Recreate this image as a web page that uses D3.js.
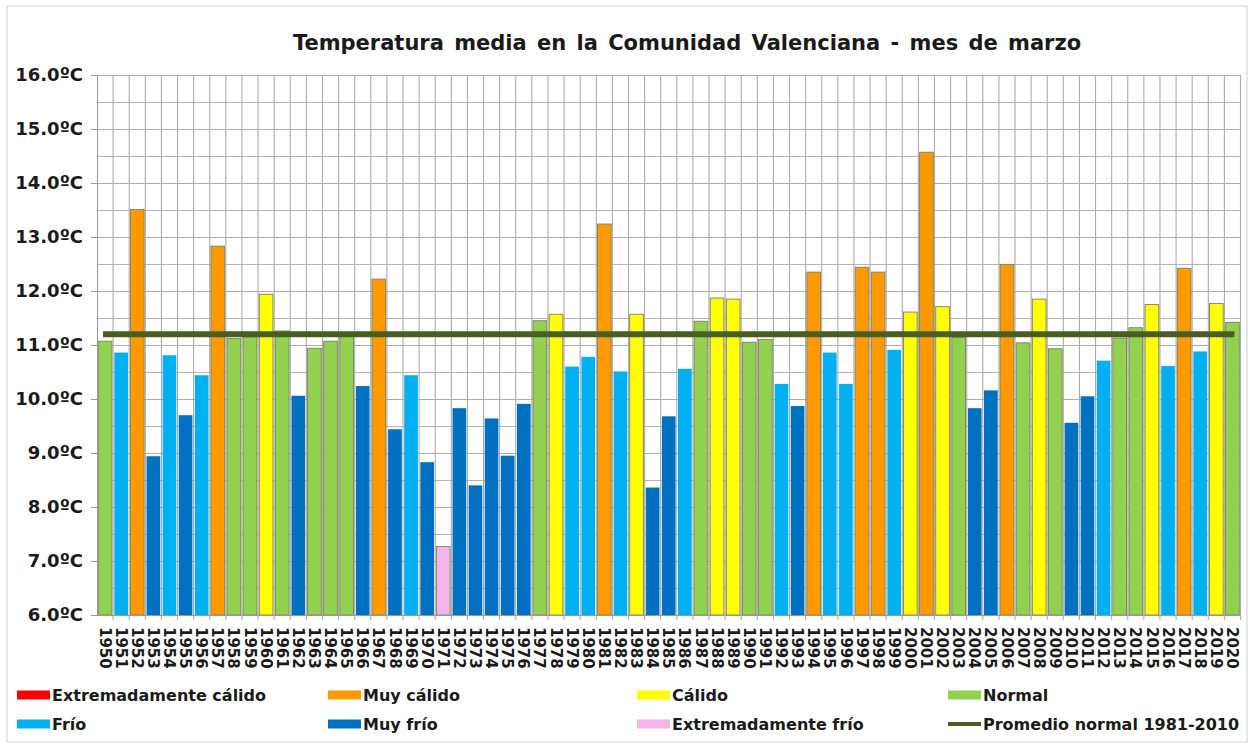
<!DOCTYPE html>
<html>
<head>
<meta charset="utf-8">
<script src="https://cdn.jsdelivr.net/npm/d3@7"></script>
<style>
  body { margin: 0; background: #fff; }
  text { font-family: "DejaVu Sans", Verdana, sans-serif; font-weight: bold; fill: #1a1a1a; }
</style>
</head>
<body>
<script>
///////////////////   Data   /////////////////

var years = d3.range(1950, 2021);

// mean March temperature (ºC)
var temps = [
  11.07, 10.86, 13.51, 8.94, 10.81, 9.70, 10.44, 12.83, 11.12, 11.15,   // 1950s
  11.94, 11.26, 10.06, 10.94, 11.07, 11.16, 10.24, 12.22, 9.44, 10.44,  // 1960s
  8.83, 7.27, 9.83, 8.40, 9.64, 8.95, 9.91, 11.45, 11.57, 10.60,        // 1970s
  10.78, 13.24, 10.51, 11.57, 8.36, 9.68, 10.56, 11.44, 11.87, 11.85,   // 1980s
  11.05, 11.10, 10.28, 9.87, 12.35, 10.86, 10.28, 12.44, 12.35, 10.91,  // 1990s
  11.61, 14.57, 11.71, 11.14, 9.83, 10.16, 12.49, 11.04, 11.85, 10.93,  // 2000s
  9.56, 10.05, 10.71, 11.13, 11.32, 11.75, 10.61, 12.42, 10.88, 11.77,  // 2010s
  11.42
];

// category of each year
var classes = [
  "N","F","MC","MF","F","MF","F","MC","N","N",
  "C","N","MF","N","N","N","MF","MC","MF","F",
  "MF","EF","MF","MF","MF","MF","MF","N","C","F",
  "F","MC","F","C","MF","MF","F","N","C","C",
  "N","N","F","MF","MC","F","F","MC","MC","F",
  "C","MC","C","N","MF","MF","MC","N","C","N",
  "MF","MF","F","N","N","C","F","MC","F","C",
  "N"
];

var categoryKeys   = ["EC", "MC", "C", "N", "F", "MF", "EF"];
var categoryLabels = ["Extremadamente cálido", "Muy cálido", "Cálido", "Normal",
                      "Frío", "Muy frío", "Extremadamente frío"];

var normalMean = 11.2;      // promedio normal 1981-2010
var normalLabel = "Promedio normal 1981-2010";

var yTicks = [6, 7, 8, 9, 10, 11, 12, 13, 14, 15, 16];

var title = "Temperatura media en la Comunidad Valenciana - mes de marzo";

///////////////////   Styles   /////////////////

var colors = {
  "EC": "#ff0000",
  "MC": "#ff9900",
  "C":  "#ffff00",
  "N":  "#92d050",
  "F":  "#00b0f0",
  "MF": "#0070c0",
  "EF": "#f4b6ea",
  "mean": "#4a5e22",
  "grid": "#ababab",
  "axis": "#9a9a9a"
};

var width = 1252, height = 744;
var plot = { left: 97, right: 1240.5, top: 75, bottom: 615 };

///////////////////   Rendering   /////////////////

var svg = d3.select("body").append("svg")
    .attr("width", width)
    .attr("height", height);

var defs = svg.append("defs");
var shadow = defs.append("filter").attr("id", "lineShadow")
    .attr("x", "-5%").attr("y", "-200%").attr("width", "110%").attr("height", "500%");
shadow.append("feGaussianBlur").attr("in", "SourceGraphic").attr("stdDeviation", 1.8);

// frame
svg.append("rect")
    .attr("x", 7).attr("y", 6)
    .attr("width", width - 12).attr("height", height - 8)
    .attr("fill", "#fff")
    .attr("stroke", "#d0d0d0");

var x = d3.scaleBand()
    .domain(years)
    .range([plot.left, plot.right])
    .paddingInner(0.15)
    .paddingOuter(0.075);

var y = d3.scaleLinear()
    .domain([6, 16])
    .range([plot.bottom, plot.top]);

var step = x.step();

// horizontal grid every 0.5
svg.append("g")
  .selectAll("line")
  .data(d3.range(6.5, 16.01, 0.5))
  .enter().append("line")
    .attr("x1", plot.left).attr("x2", plot.right)
    .attr("y1", function(d) { return Math.round(y(d)) + 0.5; })
    .attr("y2", function(d) { return Math.round(y(d)) + 0.5; })
    .attr("stroke", colors.grid)
    .attr("stroke-width", function(d) { return d % 1 === 0 ? 1.2 : 0.9; });

// vertical grid at category boundaries
svg.append("g")
  .selectAll("line")
  .data(years)
  .enter().append("line")
    .attr("x1", function(d) { return x(d) - step * x.paddingInner() / 2 + step; })
    .attr("x2", function(d) { return x(d) - step * x.paddingInner() / 2 + step; })
    .attr("y1", plot.top).attr("y2", plot.bottom + 5)
    .attr("stroke", colors.grid)
    .attr("stroke-width", 1.1);

// bars
svg.append("g")
  .selectAll("rect")
  .data(years)
  .enter().append("rect")
    .attr("x", function(d) { return x(d); })
    .attr("width", x.bandwidth())
    .attr("y", function(d, i) { return y(temps[i]); })
    .attr("height", function(d, i) { return y(6) - y(temps[i]); })
    .attr("fill", function(d, i) { return colors[classes[i]]; })
    .attr("stroke", function(d, i) {
        var c = classes[i];
        return (c === "F" || c === "MF") ? "none" : "#7f8060";
    })
    .attr("stroke-width", 0.9);

// mean line
var xMean0 = x(years[0]) + x.bandwidth() / 2 - 2,
    xMean1 = x(years[years.length - 1]) + x.bandwidth() / 2 + 2;
svg.append("line")
    .attr("x1", xMean0).attr("x2", xMean1)
    .attr("y1", y(normalMean) + 1).attr("y2", y(normalMean) + 1)
    .attr("stroke", "#2f3a18").attr("stroke-opacity", 0.65)
    .attr("stroke-width", 9)
    .attr("filter", "url(#lineShadow)");
svg.append("line")
    .attr("x1", xMean0).attr("x2", xMean1)
    .attr("y1", y(normalMean)).attr("y2", y(normalMean))
    .attr("stroke", colors.mean)
    .attr("stroke-width", 6);

// y axis
var yAxis = svg.append("g")
    .attr("transform", "translate(" + plot.left + ",0)")
    .call(d3.axisLeft(y).tickValues(yTicks).tickSize(6).tickPadding(8)
        .tickFormat(function(d) { return d3.format(".1f")(d) + "ºC"; }));
yAxis.select(".domain").attr("stroke", colors.axis);
yAxis.selectAll(".tick line").attr("stroke", colors.axis);
yAxis.selectAll(".tick text")
    .attr("font-size", 18)
    .attr("font-family", null)
    .attr("fill", "#1a1a1a");

// x axis line
svg.append("line")
    .attr("x1", plot.left).attr("x2", plot.right)
    .attr("y1", plot.bottom + 0.5).attr("y2", plot.bottom + 0.5)
    .attr("stroke", colors.axis);

// year labels, rotated
svg.append("g")
  .selectAll("text")
  .data(years)
  .enter().append("text")
    .attr("transform", function(d) {
        return "translate(" + (x(d) + x.bandwidth() / 2) + "," + (plot.bottom + 12) + ") rotate(90)";
    })
    .attr("dy", "0.36em")
    .attr("font-size", 15)
    .text(function(d) { return d; });

// title
svg.append("text")
    .attr("x", 687).attr("y", 50)
    .attr("text-anchor", "middle")
    .attr("font-size", 21)
    .attr("word-spacing", 3)
    .text(title);

// legend
var legendCols = [17, 328, 637, 948],
    legendRows = [695, 724];

var legendItems = categoryKeys.map(function(k, i) { return { key: k, label: categoryLabels[i] }; });
legendItems.push({ key: "mean", label: normalLabel });

var legend = svg.append("g")
  .selectAll("g")
  .data(legendItems)
  .enter().append("g")
    .attr("transform", function(d, i) {
        return "translate(" + legendCols[i % 4] + "," + legendRows[Math.floor(i / 4)] + ")";
    });

legend.append("rect")
    .attr("x", 0)
    .attr("y", function(d) { return d.key === "mean" ? -2 : -4.5; })
    .attr("width", 33)
    .attr("height", function(d) { return d.key === "mean" ? 4 : 9; })
    .attr("fill", function(d) { return colors[d.key]; });

legend.append("text")
    .attr("x", 35)
    .attr("y", 6)
    .attr("font-size", 16)
    .text(function(d) { return d.label; });
</script>
</body>
</html>
